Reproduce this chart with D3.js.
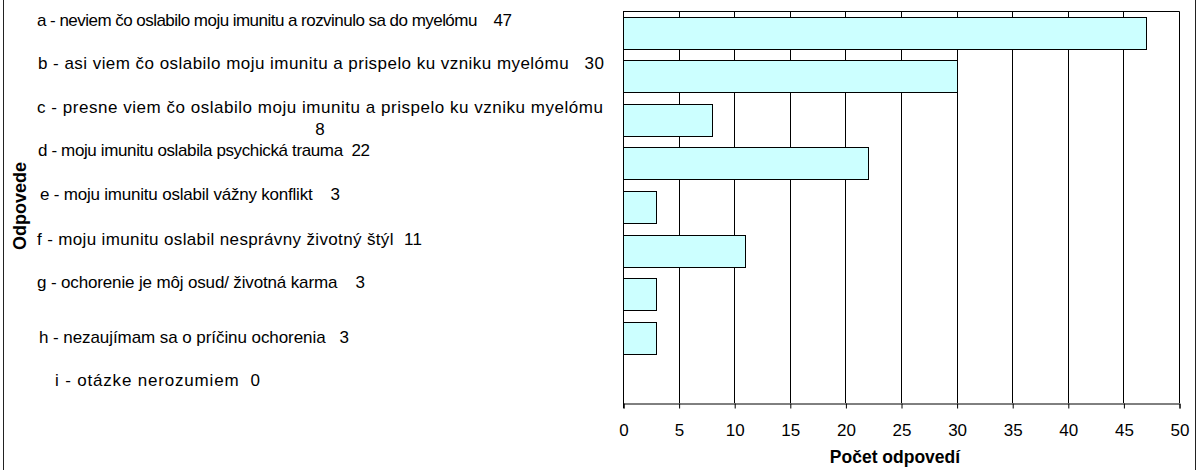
<!DOCTYPE html>
<html>
<head>
<meta charset="utf-8">
<script src="https://cdn.jsdelivr.net/npm/d3@7"></script>
<style>
  body { margin: 0; background: #fff; }
  text { font-family: "Liberation Sans", Arial, sans-serif; fill: #000; }
</style>
</head>
<body>
<div id="chart"></div>
<script>
var categories = [
  "a - neviem čo oslabilo moju imunitu a rozvinulo sa do myelómu",
  "b - asi viem čo oslabilo moju imunitu a prispelo ku vzniku myelómu",
  "c - presne viem čo oslabilo moju imunitu a prispelo ku vzniku myelómu",
  "d - moju imunitu oslabila psychická trauma",
  "e - moju imunitu oslabil vážny konflikt",
  "f - moju imunitu oslabil nesprávny životný štýl",
  "g - ochorenie je môj osud/ životná karma",
  "h - nezaujímam sa o príčinu ochorenia",
  "i - otázke nerozumiem"
];
var counts = [47, 30, 8, 22, 3, 11, 3, 3, 0];
var xTicks = [0, 5, 10, 15, 20, 25, 30, 35, 40, 45, 50];
var xTitle = "Počet odpovedí";
var yTitle = "Odpovede";

// hand placed label boxes, as in the original sheet
var labelIndent = [37, 38, 37, 38, 40, 37, 37, 39, 55];
var labelShift = [-7, -7, -7, -7, -7, -6, -6, 5, 5];
var labelWidth = [475, 566, 566, 332, 300, 385, 328, 310, 205];
var labelGap = [4, 3, 0, 2, 4, 2, 4, 3, 2];

function main(){
    var canvasWidth = 1199;
    var canvasHeight = 470;
    var plotLeft = 623, plotRight = 1179, plotTop = 11, plotBottom = 403;

    var svg = d3.select("#chart").append("svg")
        .attr("width", canvasWidth)
        .attr("height", canvasHeight)

    // outer border of the chart object
    svg.append("rect")
        .attr("x", 3.5)
        .attr("y", -5)
        .attr("width", 1192)
        .attr("height", canvasHeight + 10)
        .attr("fill", "none")
        .attr("stroke", "#222")

    var xScale = d3.scaleLinear().domain([0, 50]).range([plotLeft, plotRight]);
    var yScale = d3.scaleBand().domain(categories).range([plotTop, plotBottom])
        .paddingInner(0.265).paddingOuter(0.1325);

    var px = function(v){ return Math.round(xScale(v)) + 0.5; };

    // vertical grid lines
    svg.selectAll(".grid")
        .data(xTicks.slice(1))
        .enter().append("line")
        .attr("class", "grid")
        .attr("x1", px).attr("x2", px)
        .attr("y1", plotTop + 0.5).attr("y2", plotBottom)
        .attr("stroke", "#000")

    // top edge of plot area
    svg.append("line")
        .attr("x1", px(0)).attr("x2", px(50))
        .attr("y1", plotTop + 0.5).attr("y2", plotTop + 0.5)
        .attr("stroke", "#000")

    // bars
    svg.selectAll(".bar")
        .data(counts)
        .enter().append("rect")
        .attr("class", "bar")
        .attr("x", px(0))
        .attr("y", function(d, i){ return Math.round(yScale(categories[i])) + 0.5; })
        .attr("width", function(d){ return Math.round(xScale(d)) - Math.round(xScale(0)); })
        .attr("height", Math.round(yScale.bandwidth()))
        .attr("fill", "#ccffff")
        .attr("stroke", "#000")
        .style("display", function(d){ return d > 0 ? null : "none"; })

    // x axis
    var xAxis = svg.append("g")
        .attr("transform", "translate(0.5, " + (plotBottom + 0.5) + ")")
        .call(d3.axisBottom(xScale).tickValues(xTicks).tickSize(5).tickPadding(15))
    xAxis.select(".domain").attr("stroke", "#000")
    xAxis.selectAll(".tick line").attr("stroke", "#000")
    xAxis.selectAll(".tick text").attr("font-size", "17px")
        .attr("font-family", "'Liberation Sans', Arial, sans-serif")

    // y axis line
    svg.append("line")
        .attr("x1", px(0)).attr("x2", px(0))
        .attr("y1", plotTop).attr("y2", plotBottom + 5)
        .attr("stroke", "#000")

    // category labels with their counts
    svg.selectAll(".label")
        .data(categories)
        .enter().append("text")
        .attr("class", "label")
        .attr("x", function(d, i){ return labelIndent[i]; })
        .attr("y", function(d, i){ return yScale(d) + yScale.bandwidth() / 2 + labelShift[i]; })
        .attr("font-size", "17px")
        .attr("textLength", function(d, i){ return labelWidth[i]; })
        .attr("lengthAdjust", "spacing")
        .style("white-space", "pre")
        .text(function(d, i){
            return labelGap[i] > 0 ? d + " ".repeat(labelGap[i]) + counts[i] : d;
        })

    // c label wraps its count onto a second line
    categories.forEach(function(d, i){
        if (labelGap[i] == 0) {
            svg.append("text")
                .attr("x", labelIndent[i] + labelWidth[i] / 2)
                .attr("y", yScale(d) + yScale.bandwidth() / 2 + labelShift[i] + 22)
                .attr("text-anchor", "middle")
                .attr("font-size", "17px")
                .text(counts[i])
        }
    })

    // axis titles
    svg.append("text")
        .attr("x", (plotLeft + plotRight) / 2 - 6)
        .attr("y", 463)
        .attr("text-anchor", "middle")
        .attr("font-size", "17.5px")
        .attr("font-weight", "bold")
        .text(xTitle)

    svg.append("text")
        .attr("transform", "translate(26, " + ((plotTop + plotBottom) / 2 - 1) + ") rotate(-90)")
        .attr("text-anchor", "middle")
        .attr("font-size", "18px")
        .attr("font-weight", "bold")
        .text(yTitle)
}

main()
</script>
</body>
</html>
